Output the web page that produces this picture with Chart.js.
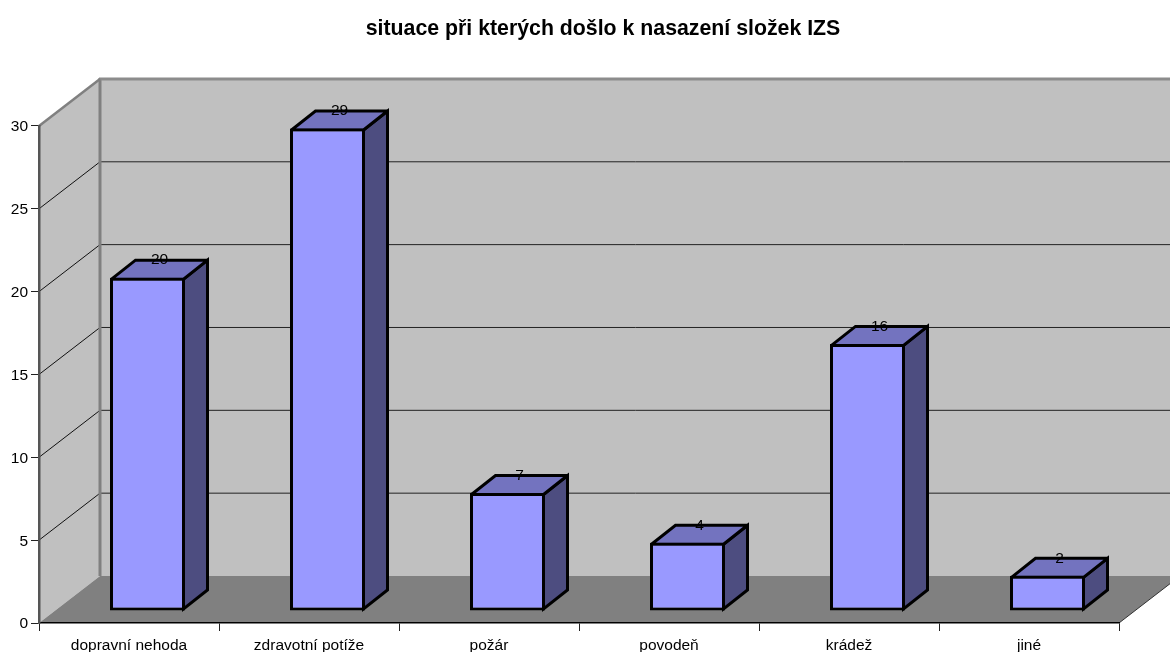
<!DOCTYPE html>
<html lang="cs"><head><meta charset="utf-8">
<style>html,body{margin:0;padding:0;background:#fff}canvas{display:block}</style>
<script src="https://cdn.jsdelivr.net/npm/chart.js@4"></script>
</head><body>
<canvas id="c" width="1170" height="652"></canvas>
<script>
const categories = ["dopravní nehoda","zdravotní potíže","požár","povodeň","krádež","jiné"];
const values = [20,29,7,4,16,2];
const yTicks = [0,5,10,15,20,25,30];
const titleText = "situace při kterých došlo k nasazení složek IZS";

const FONT = '"Liberation Sans", Arial, sans-serif';
const WALL_DX = 61, WALL_DY = -47;
const BAR_DX = 18.5, BAR_DY = -14;
const DEPTH_DX = 24, DEPTH_DY = -19;
const BORDER = 3;
const LABEL_SIZE = 15.5;

function poly(ctx, pts, fill, stroke, lw){
  ctx.beginPath();
  pts.forEach((p,i)=> i?ctx.lineTo(p[0],p[1]):ctx.moveTo(p[0],p[1]));
  ctx.closePath();
  if(fill){ctx.fillStyle=fill;ctx.fill();}
  if(stroke){ctx.strokeStyle=stroke;ctx.lineWidth=lw;ctx.lineJoin='miter';ctx.miterLimit=2.5;ctx.stroke();}
}
function seg(ctx, a, b, color, lw){
  ctx.beginPath();ctx.moveTo(a[0],a[1]);ctx.lineTo(b[0],b[1]);
  ctx.strokeStyle=color;ctx.lineWidth=lw;ctx.lineCap='butt';ctx.stroke();
}
const box3d = {
  id:'box3d',
  afterLayout(chart){
    chart.titleBlock.left = 36; chart.titleBlock.right = 1170;
    const ys = chart.scales.y, orig = ys._computeLabelItems.bind(ys);
    ys._computeLabelItems = area => orig(area).map(it => { it.textOffset += 1.2; return it; });
  },
  beforeDraw(chart){
    const {ctx,scales:{x,y}} = chart;
    const L=x.left,R=x.right,T=y.getPixelForValue(yTicks[yTicks.length-1]),B=y.getPixelForValue(0);
    ctx.save();
    poly(ctx,[[L,T],[L+WALL_DX,T+WALL_DY],[L+WALL_DX,B+WALL_DY],[L,B]],'#C0C0C0');
    poly(ctx,[[L+WALL_DX,T+WALL_DY],[R+WALL_DX,T+WALL_DY],[R+WALL_DX,B+WALL_DY],[L+WALL_DX,B+WALL_DY]],'#C0C0C0');
    poly(ctx,[[L,B],[R,B],[R+WALL_DX,B+WALL_DY],[L+WALL_DX,B+WALL_DY]],'#808080');
    yTicks.slice(1,-1).forEach(v=>{
      const p=y.getPixelForValue(v);
      seg(ctx,[L,p],[L+WALL_DX,p+WALL_DY],'#111',1);
      seg(ctx,[L+WALL_DX,p+WALL_DY],[R+WALL_DX,p+WALL_DY],'#222',1);
    });
    seg(ctx,[L+WALL_DX,T+WALL_DY-1],[L+WALL_DX,B+WALL_DY],'#808080',3);
    seg(ctx,[L+WALL_DX-1,T+WALL_DY],[R+WALL_DX,T+WALL_DY],'#8c8c8c',3);
    seg(ctx,[L,T],[L+WALL_DX,T+WALL_DY],'#808080',2.5);
    seg(ctx,[R,B],[R+WALL_DX,B+WALL_DY],'#333',1);
    ctx.restore();
  },
  beforeDatasetsDraw(chart){
    const {ctx} = chart;
    const meta = chart.getDatasetMeta(0);
    ctx.save();
    ctx.translate(BAR_DX,BAR_DY);
    meta.data.forEach(b=>{
      const l=b.x-b.width/2+BORDER/2, r=b.x+b.width/2-BORDER/2, t=b.y+BORDER/2, bt=b.base-BORDER/2;
      poly(ctx,[[r,t],[r+DEPTH_DX,t+DEPTH_DY],[r+DEPTH_DX,bt+DEPTH_DY],[r,bt]],'#4D4D80','#000',BORDER);
      poly(ctx,[[l,t],[r,t],[r+DEPTH_DX,t+DEPTH_DY],[l+DEPTH_DX,t+DEPTH_DY]],'#7373BF','#000',BORDER);
    });
    ctx.restore();
  },
  beforeDatasetDraw(chart){
    chart.ctx.save();
    chart.ctx.translate(BAR_DX,BAR_DY);
  },
  afterDatasetDraw(chart){
    chart.ctx.restore();
  },
  afterDatasetsDraw(chart){
    const {ctx} = chart;
    const meta = chart.getDatasetMeta(0);
    ctx.save();
    ctx.font=LABEL_SIZE+'px '+FONT;
    ctx.fillStyle='#000';
    ctx.textAlign='center';
    ctx.textBaseline='middle';
    meta.data.forEach((b,i)=>{
      ctx.fillText(String(values[i]), b.x+BAR_DX+DEPTH_DX/2, b.y+BAR_DY+DEPTH_DY+1.5);
    });
    ctx.restore();
  }
};

new Chart(document.getElementById('c'),{
  type:'bar',
  data:{labels:categories,datasets:[{
    data:values,
    base:-0.09,
    backgroundColor:'#9999FF',
    borderColor:'#000',
    borderWidth:BORDER,
    borderSkipped:false,
    barPercentage:0.4167,
    categoryPercentage:1,
    clip:false
  }]},
  options:{
    responsive:false,
    animation:false,
    events:[],
    layout:{autoPadding:false,padding:{left:0,right:51,top:0,bottom:0}},
    plugins:{
      legend:{display:false},
      tooltip:{enabled:false},
      title:{
        display:true,
        text:titleText,
        color:'#000',
        font:{family:FONT,size:21.3,weight:'bold',lineHeight:1.2},
        padding:{top:16.2,bottom:84.2}
      }
    },
    scales:{
      x:{
        afterFit(s){s.height=29;},
        grid:{drawOnChartArea:false,drawTicks:true,tickLength:8,color:'#222',tickWidth:1},
        border:{display:true,color:'#000',width:1.5},
        ticks:{color:'#000',font:{family:FONT,size:LABEL_SIZE},padding:5.5,maxRotation:0,autoSkip:false}
      },
      y:{
        min:0,max:30,
        afterFit(s){s.width=39;},
        afterBuildTicks(s){s.ticks=yTicks.map(v=>({value:v}));},
        grid:{drawOnChartArea:false,drawTicks:true,tickLength:8,color:'#222',tickWidth:1},
        border:{display:true,color:'#555',width:2.5},
        ticks:{color:'#000',font:{family:FONT,size:LABEL_SIZE},padding:3}
      }
    }
  },
  plugins:[box3d]
});
</script>
</body></html>
